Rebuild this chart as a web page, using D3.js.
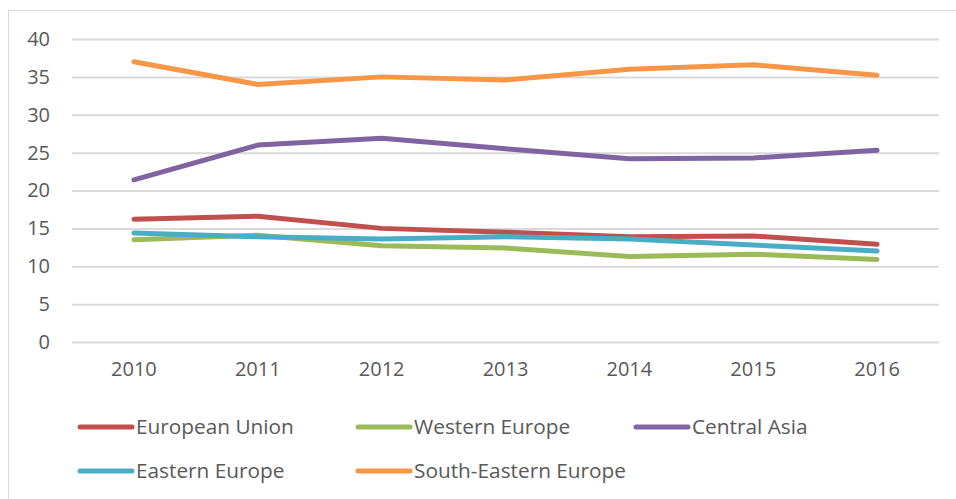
<html>
<head>
<style>
  body { margin: 0; background: #fff; }
  text { font-family: "Open Sans", Lato, sans-serif; fill: #595959; }
</style>
</head>
<body>
<svg id="chart" width="956" height="499"></svg>
<script src="https://d3js.org/d3.v7.min.js"></script>
<script>
    const years = ["2010", "2011", "2012", "2013", "2014", "2015", "2016"]
    const yTicks = [0, 5, 10, 15, 20, 25, 30, 35, 40]
    const seriesNames = ["European Union", "Western Europe", "Central Asia", "Eastern Europe", "South-Eastern Europe"]
    const seriesColors = ["#C0504D", "#9BBB59", "#8064A2", "#4BACC6", "#F79646"]
    const europeanUnion = [16.2, 16.6, 15.0, 14.5, 13.9, 14.0, 12.9]
    const westernEurope = [13.5, 14.1, 12.7, 12.4, 11.3, 11.6, 10.9]
    const centralAsia = [21.4, 26.0, 26.9, 25.5, 24.2, 24.3, 25.3]
    const easternEurope = [14.4, 13.9, 13.6, 13.9, 13.6, 12.8, 12.0]
    const southEasternEurope = [37.0, 34.0, 35.0, 34.6, 36.0, 36.6, 35.2]

    const seriesValues = [europeanUnion, westernEurope, centralAsia, easternEurope, southEasternEurope]

    let svg = d3.select("#chart")

    // outer chart frame
    svg.append("rect")
        .attr("x", 8.5).attr("y", 10.5)
        .attr("width", 960).attr("height", 500)
        .attr("fill", "none")
        .attr("stroke", "#D9D9D9")

    let x = d3.scaleBand()
        .domain(years)
        .range([72, 939])

    let y = d3.scaleLinear()
        .domain([0, 40])
        .range([342, 39])

    // gridlines
    let yAxis = d3.axisLeft(y)
        .tickValues(yTicks)
        .tickSize(-(939 - 72))
        .tickPadding(22)
    let gy = svg.append("g")
        .attr("transform", "translate(72,0)")
        .call(yAxis)
    gy.select(".domain").remove()
    gy.selectAll(".tick line").attr("stroke", "#D9D9D9").attr("stroke-width", 2)
    gy.selectAll(".tick text").style("font-size", "20px").attr("fill", "#595959")

    let xAxis = d3.axisBottom(x).tickSize(0).tickPadding(20)
    let gx = svg.append("g")
        .attr("transform", "translate(0,342)")
        .call(xAxis)
    gx.select(".domain").remove()
    gx.selectAll(".tick text").style("font-size", "20px").attr("fill", "#595959")

    let line = d3.line()
        .x((d, i) => x(years[i]) + x.bandwidth() / 2)
        .y(d => y(d))

    seriesValues.forEach((vals, k) => {
        svg.append("path")
            .datum(vals)
            .attr("d", line)
            .attr("fill", "none")
            .attr("stroke", seriesColors[k])
            .attr("stroke-width", 5)
            .attr("stroke-linecap", "round")
            .attr("stroke-linejoin", "round")
    })

    // legend
    let legend = svg.append("g")
    seriesNames.forEach((name, k) => {
        let col = k % 3, row = Math.floor(k / 3)
        let lx = 80 + col * 278, ly = 427 + row * 44
        legend.append("line")
            .attr("x1", lx).attr("x2", lx + 52)
            .attr("y1", ly).attr("y2", ly)
            .attr("stroke", seriesColors[k])
            .attr("stroke-width", 5)
            .attr("stroke-linecap", "round")
        legend.append("text")
            .attr("x", lx + 56).attr("y", ly)
            .attr("dy", "0.35em")
            .style("font-size", "20.8px")
            .text(name)
    })
</script>
</body>
</html>
